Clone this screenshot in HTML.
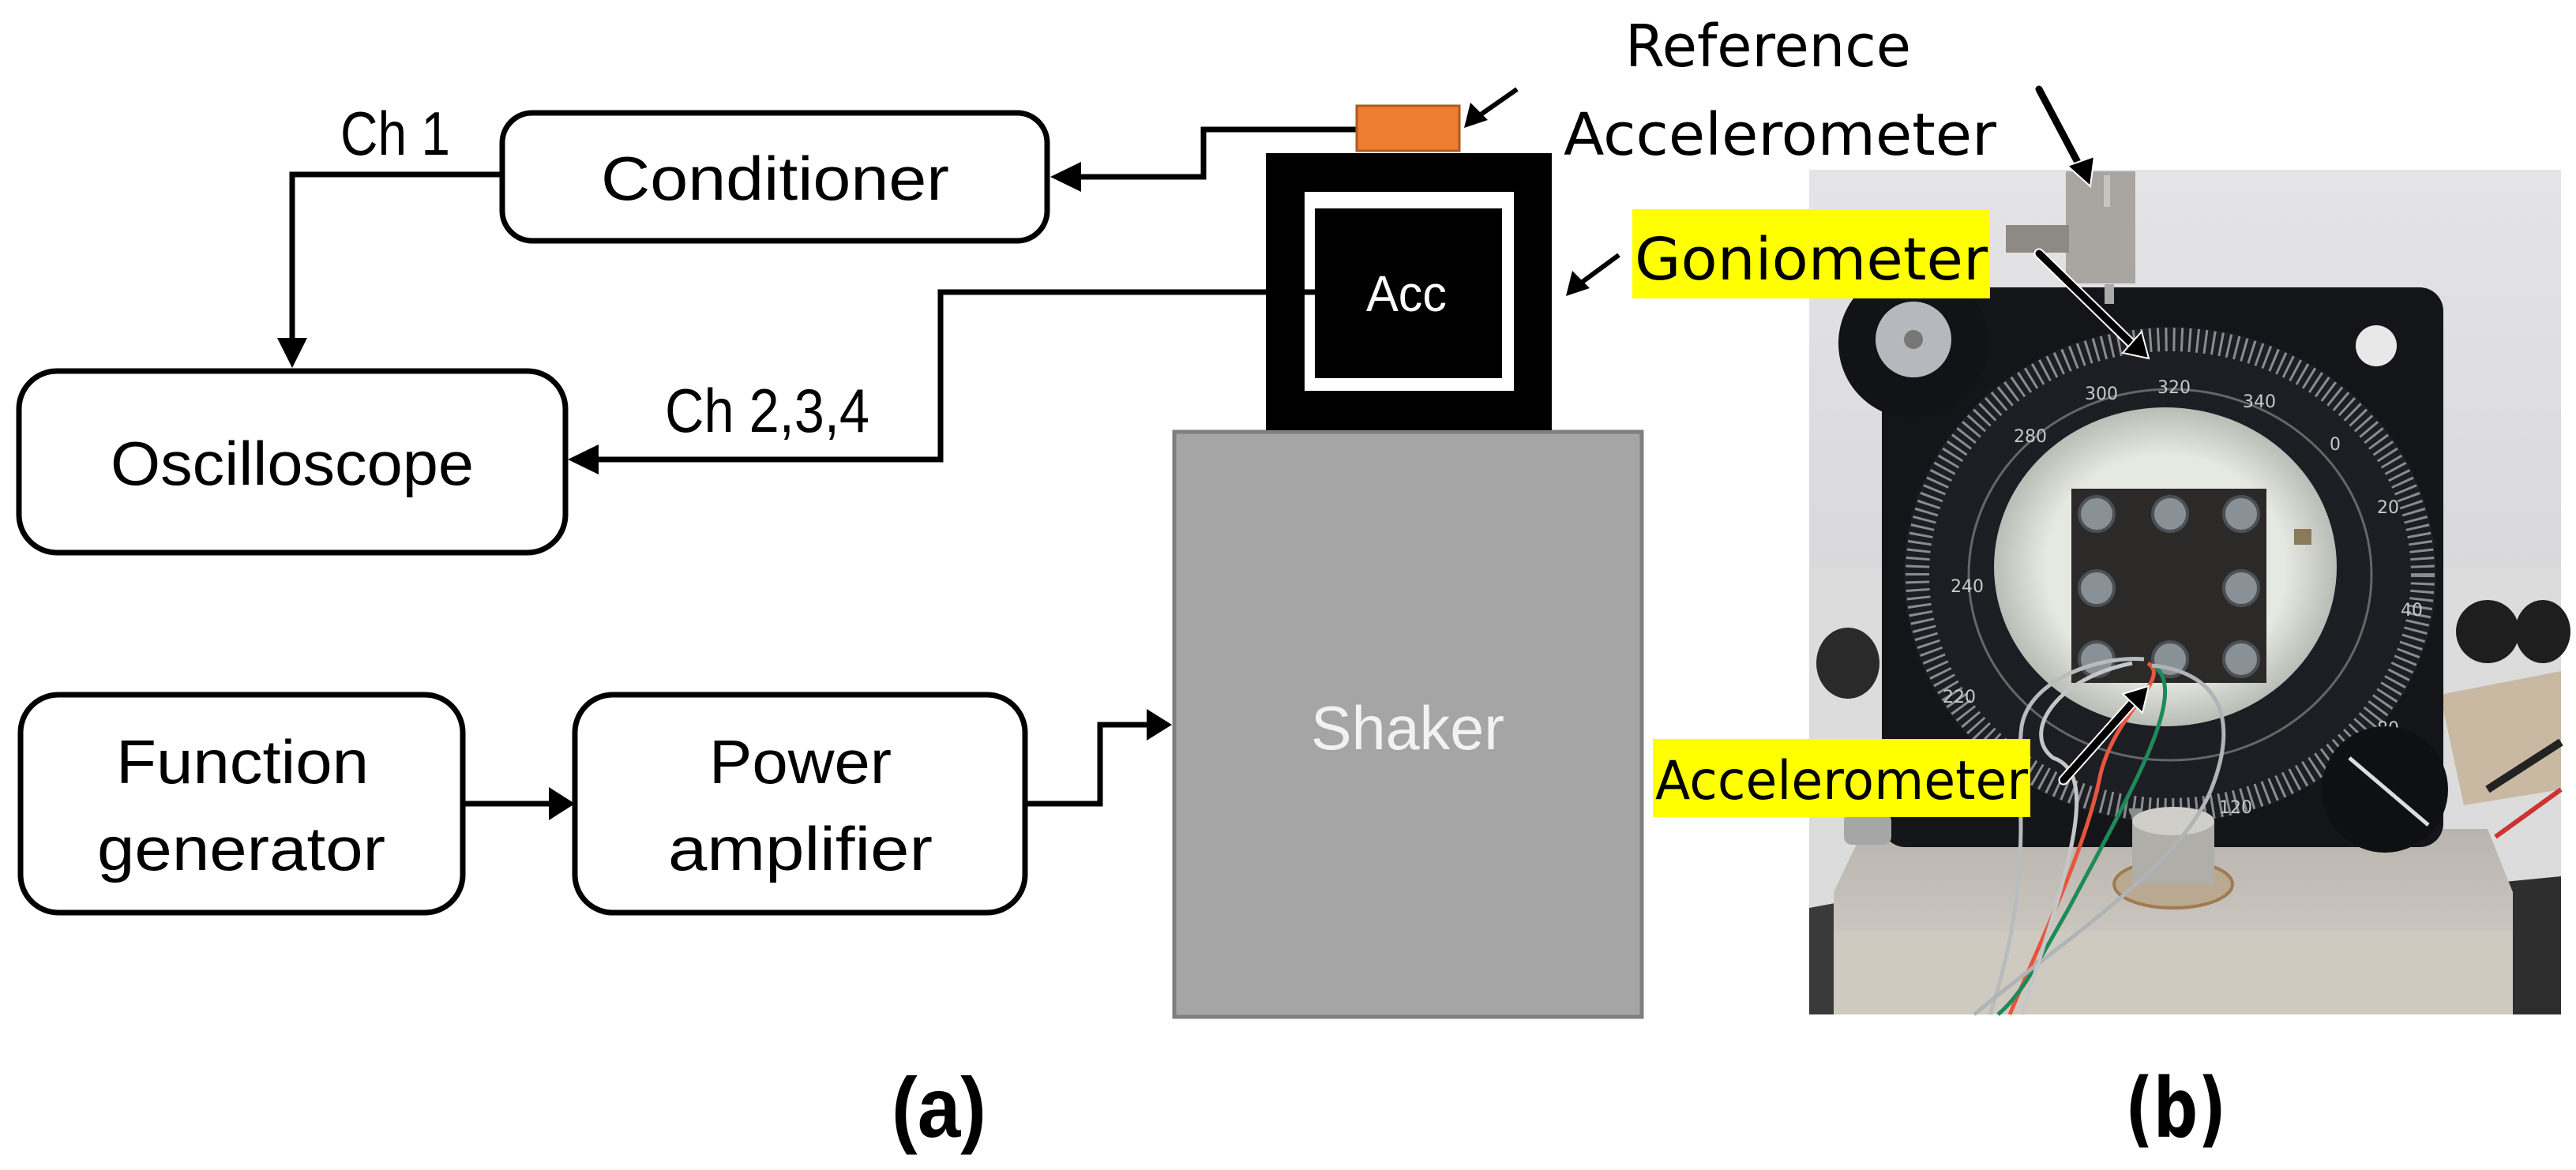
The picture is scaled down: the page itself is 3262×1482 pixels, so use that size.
<!DOCTYPE html>
<html><head><meta charset="utf-8"><style>
html,body{margin:0;padding:0;background:#fff;}
svg{display:block;}
.c{font-family:"Liberation Sans Narrow","Liberation Sans",sans-serif;}
.v{font-family:"DejaVu Sans","Liberation Sans",sans-serif;}
</style></head><body>
<svg width="3262" height="1482" viewBox="0 0 3262 1482" xmlns="http://www.w3.org/2000/svg">
<defs>
<linearGradient id="wall" x1="0" y1="0" x2="0" y2="1"><stop offset="0" stop-color="#e4e4e6"/><stop offset="0.6" stop-color="#d6d6d8"/><stop offset="1" stop-color="#cfcfd0"/></linearGradient>
<linearGradient id="base" x1="0" y1="0" x2="0" y2="1"><stop offset="0" stop-color="#b9b5ae"/><stop offset="1" stop-color="#d8d4cc"/></linearGradient>
<radialGradient id="inner" cx="0.5" cy="0.5" r="0.5"><stop offset="0.7" stop-color="#e6e9e2"/><stop offset="1" stop-color="#b8bdb5"/></radialGradient>
</defs>

<!-- ===== (a) diagram ===== -->
<g fill="none" stroke="#000" stroke-width="7">
  <rect x="636" y="143" width="690" height="162" rx="38"/>
  <rect x="24" y="470" width="692" height="230" rx="48"/>
  <rect x="26" y="880" width="560" height="276" rx="48"/>
  <rect x="728" y="880" width="570" height="276" rx="48"/>
  <polyline points="636,221 370,221 370,430"/>
  <polyline points="1717,164 1524,164 1524,224 1366,224"/>
  <polyline points="1662,370 1191,370 1191,582 756,582"/>
  <line x1="586" y1="1018" x2="700" y2="1018"/>
  <polyline points="1298,1018 1393,1018 1393,918 1458,918"/>
</g>
<g fill="#000">
  <polygon points="351,428 389,428 370,466"/>
  <polygon points="1330,224 1369,205 1369,243"/>
  <polygon points="719,582 758,563 758,601"/>
  <polygon points="728,1018 695,997 695,1039"/>
  <polygon points="1484,918 1452,898 1452,938"/>
</g>

<rect x="1487" y="547" width="592" height="741" fill="#a5a5a5" stroke="#7f7f7f" stroke-width="5"/>
<rect x="1603" y="194" width="362" height="351" fill="#000"/>
<rect x="1652" y="243" width="265" height="252" fill="#fff"/>
<rect x="1665" y="264" width="237" height="215" fill="#000"/>
<line x1="1652" y1="370" x2="1666" y2="370" stroke="#000" stroke-width="7"/>
<rect x="1718" y="134" width="130" height="57" fill="#ed7d31" stroke="#ae5a21" stroke-width="3"/>

<g stroke="#000" stroke-width="6">
  <line x1="1921" y1="113" x2="1868" y2="150"/>
  <line x1="2050" y1="323" x2="1997" y2="362"/>
</g>
<polygon points="1854,162 1862,130 1884,152" fill="#000"/>
<polygon points="1983,375 1991,343 2013,365" fill="#000"/>

<g class="c" fill="#000" font-size="78">
  <text x="431" y="196" textLength="139" lengthAdjust="spacingAndGlyphs">Ch 1</text>
  <text x="761" y="253" textLength="441" lengthAdjust="spacingAndGlyphs">Conditioner</text>
  <text x="140" y="614" textLength="460" lengthAdjust="spacingAndGlyphs">Oscilloscope</text>
  <text x="842" y="547" textLength="259" lengthAdjust="spacingAndGlyphs">Ch 2,3,4</text>
  <text x="147" y="992" textLength="320" lengthAdjust="spacingAndGlyphs">Function</text>
  <text x="123" y="1102" textLength="365" lengthAdjust="spacingAndGlyphs">generator</text>
  <text x="898" y="992" textLength="231" lengthAdjust="spacingAndGlyphs">Power</text>
  <text x="846" y="1102" textLength="335" lengthAdjust="spacingAndGlyphs">amplifier</text>
  <text x="1660" y="949" fill="#f2f2f2" textLength="245" lengthAdjust="spacingAndGlyphs">Shaker</text>
  <text x="1730" y="394" fill="#fff" font-size="64" textLength="102" lengthAdjust="spacingAndGlyphs">Acc</text>
  <text x="1129" y="1440" font-weight="bold" font-size="108" textLength="120" lengthAdjust="spacingAndGlyphs">(a)</text>
</g>

<!-- ===== (b) photo ===== -->
<g>
  <rect x="2291" y="215" width="952" height="1070" fill="url(#wall)"/>
  <rect x="2291" y="720" width="952" height="565" fill="#dcdcdc"/>
  <ellipse cx="2340" cy="840" rx="40" ry="45" fill="#2a2a2a"/>
  <ellipse cx="3150" cy="800" rx="40" ry="40" fill="#1e1e1e"/>
  <ellipse cx="3220" cy="800" rx="35" ry="40" fill="#1e1e1e"/>
  <polygon points="3090,880 3243,850 3243,1000 3120,1020" fill="#c9b8a2"/>
  <polygon points="2291,1150 2400,1130 2400,1285 2291,1285" fill="#3a3a3a"/>
  <polygon points="3140,1120 3243,1110 3243,1285 3160,1285" fill="#2e2e2e"/>
  <path d="M3150,1000 L3243,940" stroke="#222" stroke-width="10"/>
  <path d="M3160,1060 L3243,1000" stroke="#c33" stroke-width="6"/>
  <polygon points="2360,1050 3150,1050 3182,1130 3182,1285 2322,1285 2322,1130" fill="url(#base)"/>
  <rect x="2322" y="1180" width="860" height="105" fill="#cfcac0"/>
  <rect x="2383" y="364" width="711" height="709" rx="30" fill="#141518"/>
  <ellipse cx="2748" cy="728" rx="337" ry="314" fill="#1c1e24"/>
  <ellipse cx="2748" cy="728" rx="320" ry="298" fill="none" stroke="#8a8c90" stroke-width="30" stroke-dasharray="3 7"/>
  <ellipse cx="2748" cy="728" rx="255" ry="235" fill="none" stroke="#666" stroke-width="3"/>
  <g class="v" fill="#c8c8c8" font-size="22">
    <text x="2640" y="506">300</text><text x="2732" y="498">320</text><text x="2840" y="516">340</text>
    <text x="2550" y="560">280</text><text x="2950" y="570">0</text><text x="3010" y="650">20</text>
    <text x="2470" y="750">240</text><text x="3040" y="780">40</text><text x="2460" y="890">220</text>
    <text x="3010" y="930">80</text><text x="2940" y="1000">100</text><text x="2810" y="1030">120</text>
  </g>
  <ellipse cx="2742" cy="718" rx="217" ry="202" fill="url(#inner)"/>
  <rect x="2623" y="619" width="247" height="246" fill="#2c2a28"/>
  <g fill="#8a9196" stroke="#4a5056" stroke-width="4">
    <circle cx="2655" cy="651" r="22"/><circle cx="2748" cy="651" r="22"/><circle cx="2838" cy="651" r="22"/>
    <circle cx="2655" cy="745" r="22"/><circle cx="2838" cy="745" r="22"/>
    <circle cx="2655" cy="835" r="22"/><circle cx="2748" cy="835" r="22"/><circle cx="2838" cy="835" r="22"/>
  </g>
  <rect x="2905" y="670" width="22" height="20" fill="#8a7a5a"/>
  <circle cx="2423" cy="435" r="95" fill="#121316"/>
  <circle cx="2423" cy="430" r="48" fill="#b5b8bc"/>
  <circle cx="2423" cy="430" r="12" fill="#777"/>
  <circle cx="3009" cy="438" r="26" fill="#e8e8e8"/>
  <circle cx="3020" cy="1000" r="80" fill="#0f1012"/>
  <line x1="2975" y1="960" x2="3075" y2="1045" stroke="#ddd" stroke-width="5"/>
  <ellipse cx="2752" cy="1120" rx="75" ry="30" fill="#b9a990" stroke="#a07a50" stroke-width="4"/>
  <rect x="2700" y="1040" width="104" height="80" fill="#b0aea8"/>
  <ellipse cx="2752" cy="1040" rx="52" ry="18" fill="#d0cec8"/>
  <rect x="2335" y="1030" width="60" height="40" rx="10" fill="#a6a6a6"/>
  <rect x="2616" y="217" width="88" height="142" fill="#a9a6a2"/>
  <rect x="2540" y="285" width="80" height="35" fill="#8d8a86"/>
  <rect x="2664" y="222" width="8" height="40" fill="#c8c4be"/>
  <rect x="2665" y="360" width="12" height="25" fill="#aaa"/>
  <g fill="none" stroke-width="5">
    <path d="M2720,840 C2750,860 2680,900 2660,980 C2640,1080 2580,1200 2545,1285" stroke="#e8553e"/>
    <path d="M2730,845 C2770,880 2700,1000 2620,1150 C2580,1220 2560,1260 2530,1285" stroke="#1e8a5a"/>
    <path d="M2715,835 C2660,830 2570,860 2560,920 C2550,1000 2580,1100 2520,1285" stroke="#b8bcbe"/>
    <path d="M2725,843 C2800,850 2840,900 2800,1000 C2760,1100 2600,1200 2500,1285" stroke="#b0b4b6"/>
    <path d="M2700,840 C2600,860 2560,930 2600,960 C2660,980 2620,1100 2560,1285" stroke="#c4c6c8"/>
  </g>
</g>

<g stroke-linecap="round">
  <line x1="2582" y1="113" x2="2636" y2="215" stroke="#fff" stroke-width="13"/>
  <line x1="2582" y1="113" x2="2636" y2="215" stroke="#000" stroke-width="9"/>
  <polygon points="2647,236 2618,210 2652,198" fill="#000" stroke="#fff" stroke-width="2"/>
  <line x1="2582" y1="321" x2="2702" y2="438" stroke="#fff" stroke-width="13"/>
  <line x1="2582" y1="321" x2="2702" y2="438" stroke="#000" stroke-width="9"/>
  <polygon points="2721,454 2688,447 2712,420" fill="#000" stroke="#fff" stroke-width="2"/>
  <line x1="2613" y1="988" x2="2702" y2="888" stroke="#fff" stroke-width="13"/>
  <line x1="2613" y1="988" x2="2702" y2="888" stroke="#000" stroke-width="9"/>
  <polygon points="2721,869 2713,903 2688,879" fill="#000" stroke="#fff" stroke-width="2"/>
</g>

<rect x="2067" y="265" width="453" height="113" fill="#ffff00"/>
<rect x="2093" y="936" width="478" height="99" fill="#ffff00"/>
<g class="v" fill="#000" font-size="74">
  <text x="2058" y="84" textLength="362" lengthAdjust="spacingAndGlyphs">Reference</text>
  <text x="1980" y="196" textLength="548" lengthAdjust="spacingAndGlyphs">Accelerometer</text>
  <text x="2070" y="354" textLength="447" lengthAdjust="spacingAndGlyphs">Goniometer</text>
  <text x="2096" y="1012" font-size="68" textLength="472" lengthAdjust="spacingAndGlyphs">Accelerometer</text>
  <text x="2691" y="1440" font-weight="bold" font-size="104" textLength="128" lengthAdjust="spacingAndGlyphs">(b)</text>
</g>
</svg>
</body></html>
